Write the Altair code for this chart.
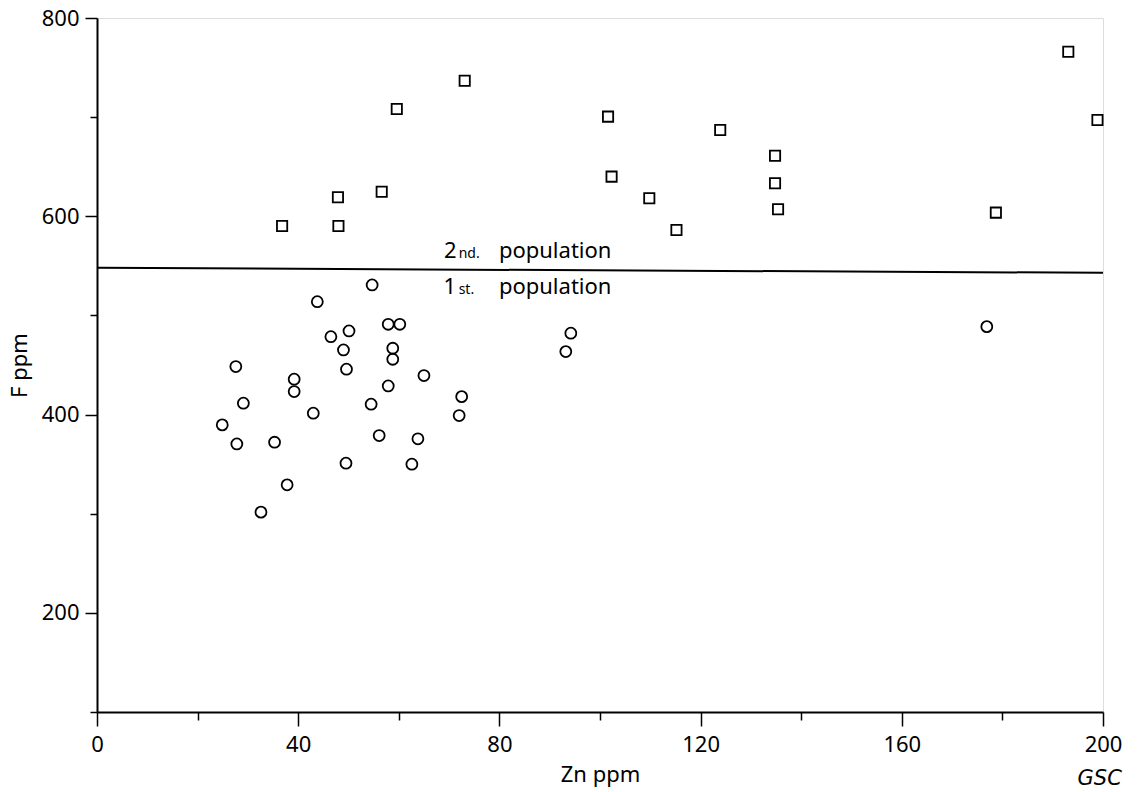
import altair as alt
import pandas as pd

# 2nd population (squares)
sq_x = [36.8, 47.9, 48.0, 56.6, 59.6, 73.1, 101.6, 102.3, 109.8, 115.2, 123.9, 134.8, 134.8, 135.4, 178.7, 193.1, 198.9]
sq_y = [590.3, 619.2, 590.3, 624.8, 708.2, 736.8, 700.5, 640.0, 618.2, 586.2, 687.1, 661.1, 633.3, 607.1, 603.7, 766.0, 697.1]

# 1st population (circles)
ci_x = [24.9, 27.6, 27.8, 29.1, 32.6, 35.3, 37.8, 39.2, 39.2, 43.0, 43.8, 46.5, 49.0, 49.6, 50.1, 49.5,
        54.5, 54.7, 56.1, 57.9, 60.2, 58.8, 58.8, 57.9, 62.6, 63.8, 65.0, 72.0, 72.5, 93.2, 94.2, 176.9]
ci_y = [389.6, 448.4, 370.4, 411.5, 301.6, 372.1, 329.1, 435.7, 423.2, 401.4, 513.9, 478.6, 465.2, 445.8, 484.4, 351.0,
        410.5, 530.8, 378.8, 491.1, 491.1, 466.9, 455.8, 428.9, 350.0, 375.5, 439.3, 399.0, 418.1, 463.5, 482.1, 488.7]

# separating line between populations
line_x = [0, 200]
line_y = [548, 543]

x_ticks = [0, 20, 40, 60, 80, 100, 120, 140, 160, 180, 200]
y_ticks = [100, 200, 300, 400, 500, 600, 700, 800]

FONT = "Noto Sans"

sq = pd.DataFrame({"x": sq_x, "y": sq_y})
ci = pd.DataFrame({"x": ci_x, "y": ci_y})
ln = pd.DataFrame({"x": line_x, "y": line_y})

xscale = alt.Scale(domain=[0, 200], nice=False, zero=False)
yscale = alt.Scale(domain=[100, 800], nice=False, zero=False)

xaxis = alt.Axis(
    title="Zn ppm", values=x_ticks, grid=False, labelFlush=False,
    labelExpr="datum.value % 40 === 0 ? datum.label : ''",
    tickSize={"condition": {"test": "datum.value % 40 === 0", "value": 14}, "value": 8},
    tickColor="black", tickWidth=1.5, domainColor="black", domainWidth=2,
    labelFont=FONT, labelFontSize=22, labelColor="black", labelPadding=8,
    titleFont=FONT, titleFontSize=22, titleFontWeight="normal", titleColor="black", titlePadding=9,
)
yaxis = alt.Axis(
    title="F ppm", values=y_ticks, grid=False, labelFlush=False,
    labelExpr="datum.value % 200 === 0 ? datum.label : ''",
    tickSize={"condition": {"test": "datum.value % 200 === 0", "value": 12}, "value": 7},
    tickColor="black", tickWidth=1.5, domainColor="black", domainWidth=2,
    labelFont=FONT, labelFontSize=22, labelColor="black", labelPadding=6,
    titleFont=FONT, titleFontSize=22, titleFontWeight="normal", titleColor="black", titlePadding=10,
)

squares = alt.Chart(sq).mark_point(shape="square", size=105, filled=False, color="black", strokeWidth=1.8, opacity=1).encode(
    x=alt.X("x:Q", scale=xscale, axis=xaxis),
    y=alt.Y("y:Q", scale=yscale, axis=yaxis),
)
circles = alt.Chart(ci).mark_point(shape="circle", size=120, filled=False, color="black", strokeWidth=1.8, opacity=1).encode(
    x=alt.X("x:Q", scale=xscale),
    y=alt.Y("y:Q", scale=yscale),
)
sep = alt.Chart(ln).mark_line(color="black", strokeWidth=2).encode(
    x=alt.X("x:Q", scale=xscale),
    y=alt.Y("y:Q", scale=yscale),
)

# annotation labels
ann = pd.DataFrame({
    "x": [69.0, 71.9, 79.9, 68.9, 71.9, 79.9],
    "y": [558.0, 558.0, 558.0, 521.7, 521.7, 521.7],
    "t": ["2", "nd.", "population", "1", "st.", "population"],
    "s": [22, 14, 22, 22, 14, 22],
})
labels = alt.Chart(ann).mark_text(align="left", baseline="alphabetic", font=FONT, color="black").encode(
    x=alt.X("x:Q", scale=xscale),
    y=alt.Y("y:Q", scale=yscale),
    text="t:N",
    size=alt.Size("s:Q", scale=None, legend=None),
)

chart = alt.layer(sep, squares, circles, labels).properties(
    width=1006, height=694,
    title=alt.TitleParams("GSC", orient="bottom", anchor="end", dx=0, offset=-17,
                          font="DejaVu Sans", fontStyle="italic", fontWeight="normal", fontSize=21, color="black"),
    autosize=alt.AutoSizeParams(type="none"),
    padding={"left": 97, "top": 18, "right": 39, "bottom": 80},
).configure_view(stroke=None).configure(background="white")

chart.save("out.html", embed_options={"renderer": "svg", "actions": False})
